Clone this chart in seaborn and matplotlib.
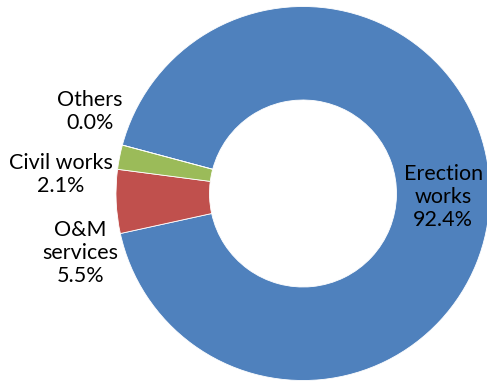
import matplotlib
matplotlib.use("Agg")
import matplotlib.pyplot as plt
import seaborn as sns

# Share of work by category (%)
categories = ["Erection\nworks", "O&M\nservices", "Civil works", "Others"]
shares = [92.4, 5.5, 2.1, 0.0]
colors = ["#4F81BD", "#C0504D", "#9BBB59", "#8064A2"]

# Label anchor positions (in units of outer radius)
label_pos = [(0.75, -0.02), (-1.19, -0.32), (-1.295, 0.10), (-1.14, 0.44)]

sns.set_theme(style="white")
plt.rcParams["font.family"] = ["Lato", "DejaVu Sans"]

W, H, DPI = 487, 382, 100
fig = plt.figure(figsize=(W / DPI, H / DPI), dpi=DPI)
ax = fig.add_axes([0, 0, 1, 1])

ax.pie(shares, colors=colors, startangle=165, counterclock=False,
       radius=1.0, wedgeprops=dict(width=0.5, edgecolor="white", linewidth=0.6))

# Place the ring: centre and outer radius in pixels
cx, cy, r = 303, 193.5, 187.0
ax.set_xlim(-cx / r, (W - cx) / r)
ax.set_ylim(-(H - cy) / r, cy / r)
ax.set_aspect("equal")
ax.axis("off")

for name, val, (x, y) in zip(categories, shares, label_pos):
    ax.text(x, y, f"{name}\n{val:.1f}%", ha="center", va="center",
            multialignment="center", fontsize=15.5, linespacing=1.18,
            color="black")

fig.savefig("out.png", dpi=DPI)
